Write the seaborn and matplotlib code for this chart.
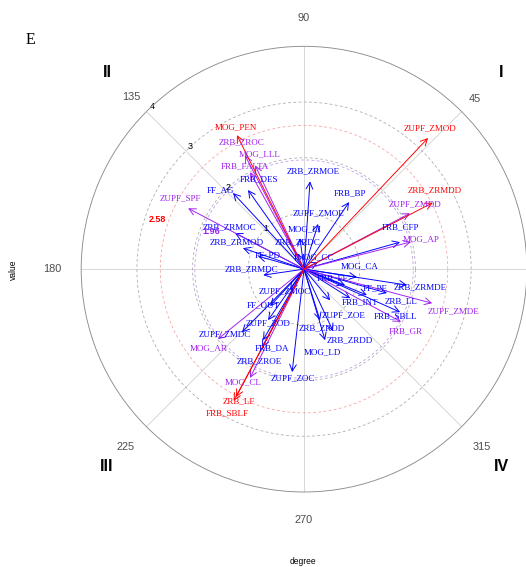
import numpy as np
import matplotlib
matplotlib.use("Agg")
import matplotlib.pyplot as plt
import seaborn as sns

# Loadings: variable name, direction (degree) and magnitude (value)
variables = [
    "ZUPF_ZMOD", "ZRB_ZRMDD", "MOG_PEN", "ZRB_LF", "FRB_SBLF",
    "ZRB_ZROC", "MOG_LLL", "FRB_FALTA", "ZUPF_SPF", "ZUPF_ZMDD",
    "MOG_AP", "ZUPF_ZMDE", "FRB_GR", "MOG_AR", "MOG_CL",
    "FRB_DES", "FF_AG", "ZRB_ZRMOC", "ZRB_ZRMOD", "FF_PD",
    "ZRB_ZRMDC", "ZRB_ZRDC", "MOG_LI", "ZUPF_ZMOE", "ZRB_ZRMOE",
    "FRB_BP", "MOG_CC", "FRB_CFP", "MOG_CA", "FRB_FE",
    "FF_PE", "ZRB_ZRMDE", "FRB_INT", "ZRB_LL", "FRB_SBLL",
    "ZUPF_ZOE", "ZRB_ZROD", "ZRB_ZRDD", "MOG_LD", "ZUPF_ZOC",
    "ZRB_ZROE", "FRB_DA", "ZUPF_ZOD", "FF_OUT", "ZUPF_ZMDC",
    "ZUPF_ZMOC",
]
degree = [
    46.6, 27.3, 116.6, 242.0, 241.9,
    117.4, 115.2, 119.1, 152.3, 27.8,
    14.3, 345.1, 331.5, 219.1, 243.6,
    125.3, 133.0, 152.4, 161.0, 164.2,
    188.3, 117.9, 97.4, 72.7, 86.1,
    56.1, 26.6, 15.7, 351.4, 338.7,
    337.6, 351.2, 327.8, 343.9, 335.9,
    310.0, 287.4, 295.1, 286.5, 263.4,
    241.7, 240.0, 234.8, 227.4, 225.5,
    236.3,
]
value = [
    3.24, 2.60, 2.69, 2.60, 2.68,
    2.30, 2.06, 1.99, 2.35, 2.15,
    1.98, 2.38, 1.98, 1.99, 2.18,
    1.74, 1.87, 1.40, 1.16, 0.86,
    0.74, 0.35, 0.56, 0.85, 1.58,
    1.45, 0.28, 1.79, 0.96, 0.79,
    1.22, 1.87, 0.98, 1.55, 1.89,
    0.73, 0.96, 1.23, 1.33, 1.86,
    1.59, 1.47, 1.12, 0.90, 1.59,
    0.45,
]

# Significance thresholds drawn as reference circles
thresholds = [1.96, 2.58]
threshold_labels = ["1.96", "2.58"]
radial_ticks = [1, 2, 3, 4]
angle_ticks = [45, 90, 135, 180, 225, 270, 315]
quadrants = ["I", "II", "III", "IV"]

RED, PURPLE, BLUE = "#FF0000", "#A020F0", "#0000FF"


def level_color(v):
    if v >= thresholds[1]:
        return RED
    if v >= thresholds[0]:
        return PURPLE
    return BLUE


# label placement (offset points from the arrow tip); default is straight above
label_offsets = {
    "ZUPF_ZMOD": (2, 10), "ZRB_ZRMDD": (2, 12), "MOG_PEN": (-1, 8),
    "ZRB_LF": (3, -4), "FRB_SBLF": (-6, -12), "ZRB_ZROC": (-4, 13),
    "MOG_LLL": (5, 11), "FRB_FALTA": (-5, 6), "ZUPF_SPF": (-8, 10),
    "ZUPF_ZMDD": (5, 9), "MOG_AP": (10, 3), "ZUPF_ZMDE": (21, -8),
    "FRB_GR": (5, -10), "MOG_AR": (-9, -9), "MOG_CL": (-7, -4),
    "FRB_DES": (11, 11), "FF_AG": (-12, 3), "ZRB_ZRMOC": (-5, 6),
    "ZRB_ZRMOD": (-6, 6), "FF_PD": (10, 1), "ZRB_ZRMDC": (-12, 6),
    "ZRB_ZRDC": (3, 10), "MOG_LI": (5, 9), "ZUPF_ZMOE": (0, 11),
    "ZRB_ZRMOE": (3, 10), "FRB_BP": (1, 9), "MOG_CC": (-3, 5),
    "FRB_CFP": (0, 15), "MOG_CA": (3, 11), "FRB_FE": (-12, 7),
    "FF_PE": (8, 7), "ZRB_ZRMDE": (13, -2), "FRB_INT": (10, -4),
    "ZRB_LL": (14, -8), "FRB_SBLL": (-5, -4), "ZUPF_ZOE": (13, -15),
    "ZRB_ZROD": (2, -8), "ZRB_ZRDD": (17, -9), "MOG_LD": (-3, -12),
    "ZUPF_ZOC": (1, -6), "ZRB_ZROE": (-3, -14), "FRB_DA": (9, -8),
    "ZUPF_ZOD": (0, -3), "FF_OUT": (-7, 1), "ZUPF_ZMDC": (-17, -2),
    "ZUPF_ZMOC": (-5, -1),
}

sns.set_theme(style="white")
plt.rcParams["font.family"] = ["Liberation Sans", "DejaVu Sans"]

DPI = 72
fig = plt.figure(figsize=(526 / DPI, 567 / DPI), dpi=DPI)
ax = fig.add_axes([0.154, 0.1323, 0.848, 0.786], projection="polar")
ax.set_ylim(0, 4)
ax.set_xticks([])
ax.set_yticks([])
ax.grid(False)
ax.spines["polar"].set_color("#8C8C8C")
ax.spines["polar"].set_linewidth(0.9)

# spokes every 45 degrees
for a in range(0, 360, 45):
    t = np.deg2rad(a)
    ax.plot([t, t], [0, 4], color="#CFCFCF", lw=0.8, zorder=1)

# dashed reference circles
circle_t = np.linspace(0, 2 * np.pi, 721)
for r in radial_ticks[:-1]:
    sns.lineplot(x=circle_t, y=np.full_like(circle_t, r), ax=ax, sort=False,
                 estimator=None, color="#ABABAB", lw=0.8,
                 linestyle=(0, (3.5, 3)), zorder=1)
for r, c in zip(thresholds, ["#C39AEC", "#F6A3A3"]):
    sns.lineplot(x=circle_t, y=np.full_like(circle_t, r), ax=ax, sort=False,
                 estimator=None, color=c, lw=0.8,
                 linestyle=(0, (3.5, 3)), zorder=1)

# radial tick labels along the 135 degree spoke
ax.text(0, 0, "0", fontsize=9, ha="center", va="center", color="black", zorder=2)
for r in radial_ticks:
    ax.text(np.deg2rad(133), r, str(r), fontsize=9, ha="center",
            va="center", color="black", zorder=2)

# threshold labels
ax.text(np.deg2rad(161.4), 2.77, threshold_labels[1], color=RED,
        fontsize=9, fontweight="bold", ha="center", va="center", zorder=6)
ax.text(np.deg2rad(158.0), 1.80, threshold_labels[0], color=PURPLE,
        fontsize=9, fontweight="bold", ha="center", va="center", zorder=6)

# arrows, weakest first so the strongest sit on top
order = np.argsort(value)
for i in order:
    t = np.deg2rad(degree[i])
    col = level_color(value[i])
    ax.annotate("", xy=(t, value[i]), xytext=(0, 0),
                arrowprops=dict(arrowstyle="->,head_length=0.55,head_width=0.28",
                                color=col, lw=0.95, shrinkA=0, shrinkB=0,
                                mutation_scale=12),
                zorder=3)

for i in order:
    t = np.deg2rad(degree[i])
    col = level_color(value[i])
    dx, dy = label_offsets.get(variables[i], (0, 9))
    ax.annotate(variables[i], xy=(t, value[i]), xytext=(dx, dy),
                textcoords="offset points", ha="center", va="center",
                color=col, fontsize=9, family="Liberation Serif",
                annotation_clip=False, zorder=5)

# angle labels outside the circle
angle_radius = {45: 4.33, 90: 4.5, 135: 4.38, 180: 4.52, 225: 4.52,
                270: 4.5, 315: 4.52}
for a in angle_ticks:
    ax.text(np.deg2rad(a), angle_radius[a], str(a), fontsize=11,
            color="#4D4D4D", ha="center", va="center", clip_on=False)

# quadrant numerals
for a, q in zip([45, 135, 225, 315], quadrants):
    ax.text(np.deg2rad(a), 5.0, q, fontsize=16, fontweight="bold",
            color="black", ha="center", va="center", clip_on=False)

fig.text(13 / 526, 1 - 270 / 567, "value", rotation=90, fontsize=8.5,
         ha="center", va="center", color="black")
fig.text(303 / 526, 1 - 561 / 567, "degree", fontsize=8.5,
         ha="center", va="center", color="black")
fig.text(30 / 526, 1 - 40 / 567, "E", fontsize=16, family="Liberation Serif",
         ha="center", va="center", color="black")

fig.savefig("out.png", dpi=DPI)
